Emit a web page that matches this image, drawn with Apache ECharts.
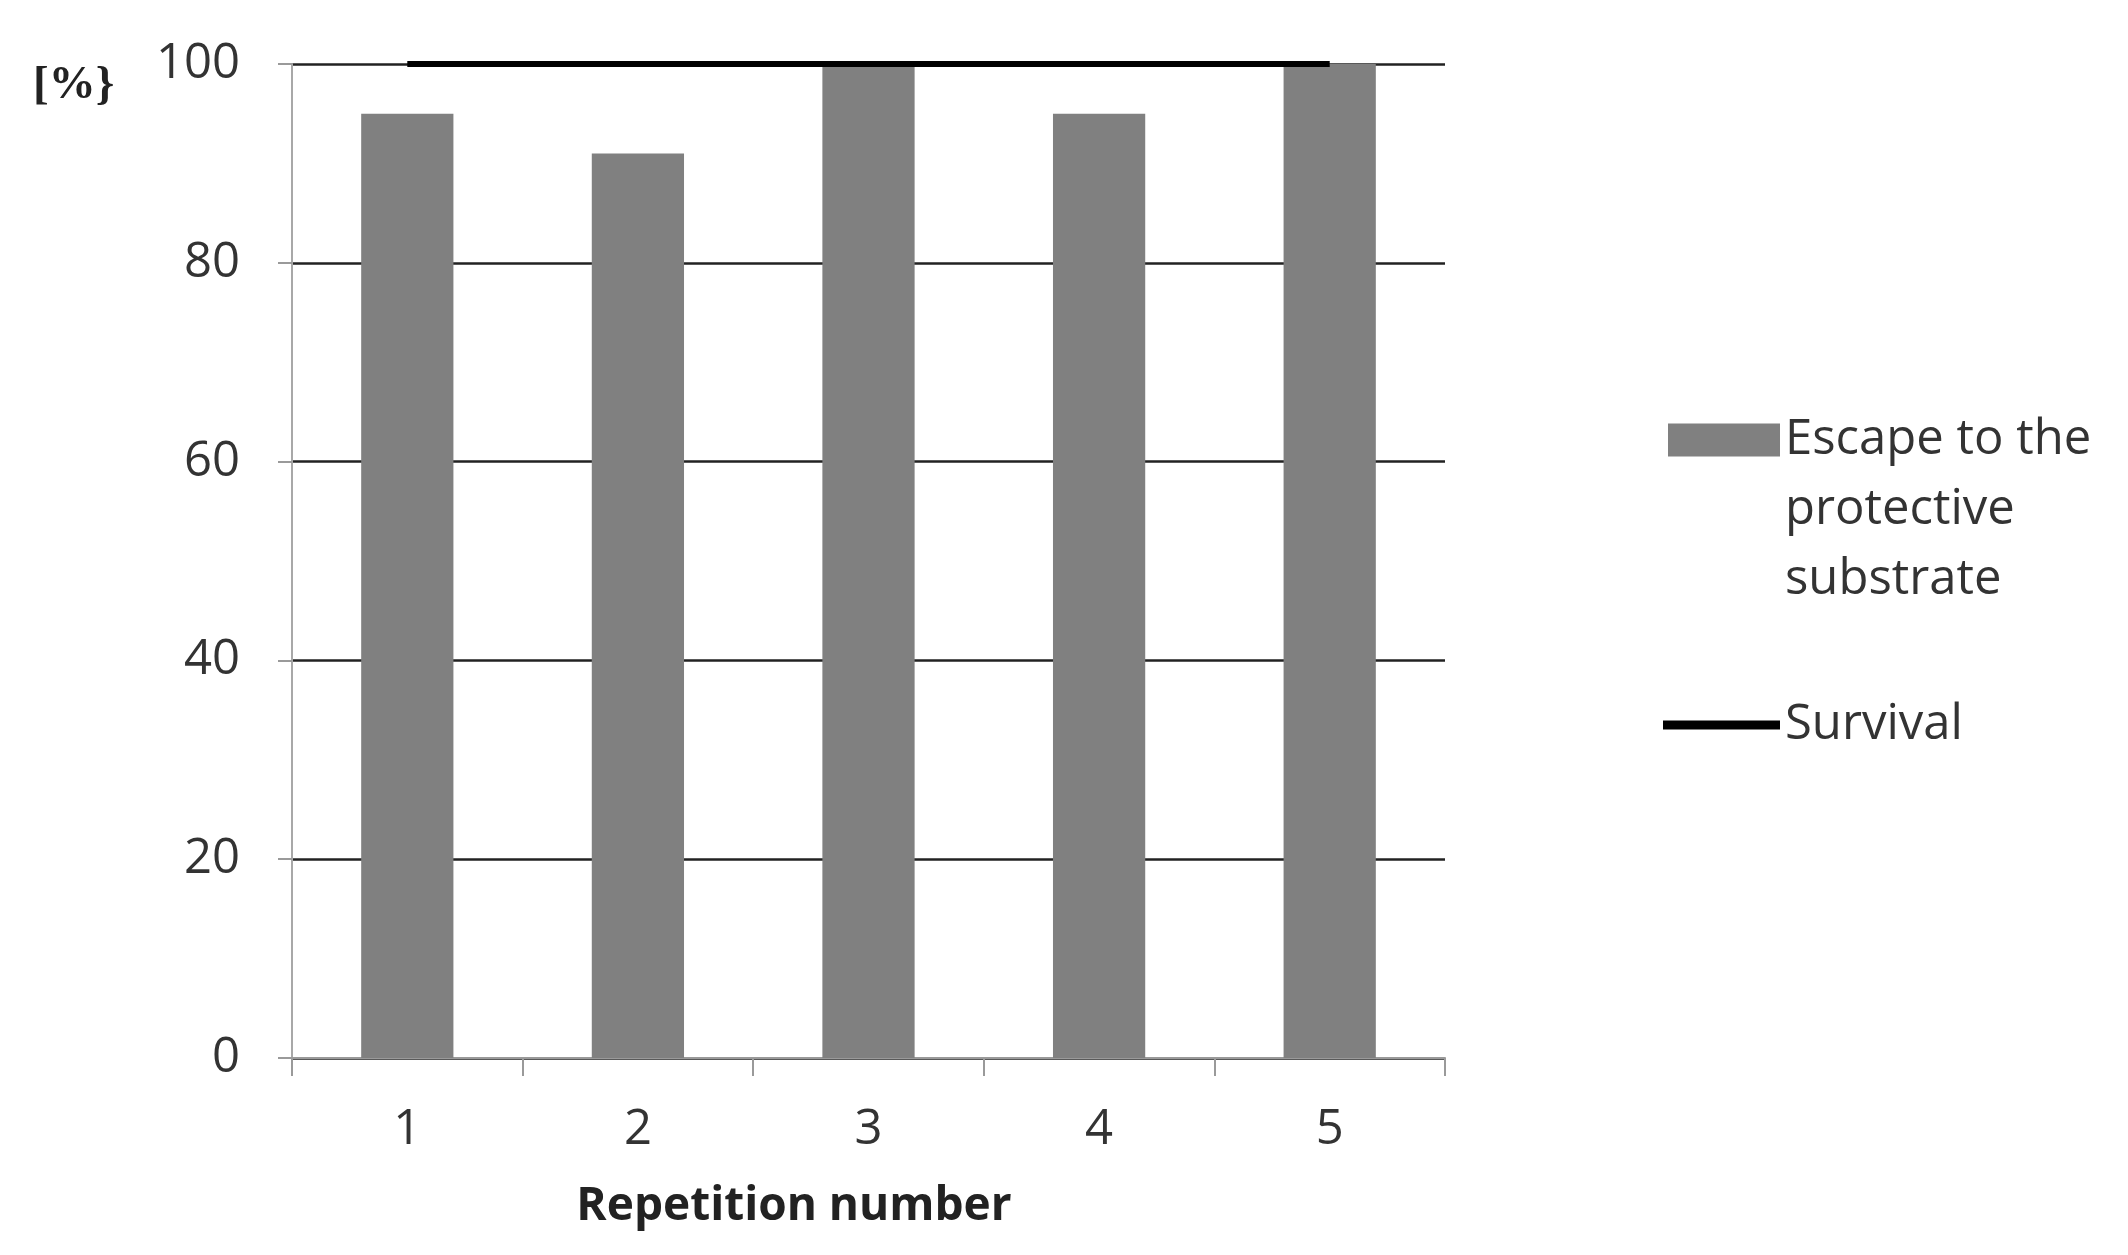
<!DOCTYPE html>
<html>
<head>
<meta charset="utf-8">
<script src="https://cdn.jsdelivr.net/npm/echarts@6/dist/echarts.min.js"></script>
<style>
html,body{margin:0;padding:0;background:#fff;}
#chart{width:2128px;height:1255px;}
</style>
</head>
<body>
<div id="chart"></div>
<script>
const categories = ['1', '2', '3', '4', '5'];
const escapeValues = [95, 91, 100, 95, 100];
const survivalValues = [100, 100, 100, 100, 100];
const yTicks = [0, 20, 40, 60, 80, 100];
const escapeName = 'Escape to the protective substrate';
const escapeLegendLines = ['Escape to the', 'protective', 'substrate'];
const survivalName = 'Survival';
const yUnit = '[%}';
const xTitle = 'Repetition number';

const chart = echarts.init(document.getElementById('chart'), null, {renderer: 'canvas'});
const font = 'Open Sans';
chart.setOption({
  backgroundColor: '#ffffff',
  animation: false,
  grid: {left: 292, right: 683, top: 64, bottom: 197, containLabel: false},
  xAxis: {
    type: 'category',
    data: categories,
    axisLine: {show: true, lineStyle: {color: '#9a9a9a', width: 2}},
    axisTick: {show: true, length: 18, lineStyle: {color: '#9a9a9a', width: 2}},
    axisLabel: {fontFamily: font, fontSize: 49, color: '#333', margin: 47, lineHeight: 50},
    splitLine: {show: false}
  },
  yAxis: {
    type: 'value',
    min: yTicks[0],
    max: yTicks[yTicks.length - 1],
    interval: yTicks[1] - yTicks[0],
    axisLine: {show: true, lineStyle: {color: '#a8a8a8', width: 2}},
    axisTick: {show: true, length: 14, lineStyle: {color: '#9a9a9a', width: 2}},
    axisLabel: {fontFamily: font, fontSize: 49, color: '#333', margin: 52},
    splitLine: {show: true, lineStyle: {color: '#222', width: 2.5}}
  },
  legend: [
    {
      orient: 'vertical',
      left: 1668,
      top: 265,
      padding: 0,
      itemWidth: 112,
      itemHeight: 33,
      icon: 'rect',
      data: [escapeName],
      formatter: function () { return '\n\n' + escapeLegendLines.join('\n'); },
      textStyle: {fontFamily: font, fontSize: 49, lineHeight: 70, color: '#333'}
    },
    {
      orient: 'vertical',
      left: 1663,
      top: 690,
      padding: 0,
      itemWidth: 117,
      itemHeight: 9,
      icon: 'rect',
      data: [survivalName],
      textStyle: {fontFamily: font, fontSize: 49, lineHeight: 70, color: '#333'}
    }
  ],
  graphic: [
    {type: 'text', left: 33, top: 62, style: {text: yUnit, fontFamily: 'Liberation Serif', fontWeight: 'bold', fontSize: 47, fill: '#222'}},
    {type: 'text', x: 794, y: 1207, style: {text: xTitle, fontFamily: font, fontWeight: 'bold', fontSize: 46, fill: '#222', align: 'center', verticalAlign: 'middle'}}
  ],
  series: [
    {
      name: escapeName,
      type: 'bar',
      data: escapeValues,
      barWidth: '40%',
      itemStyle: {color: '#808080'},
      z: 2
    },
    {
      name: survivalName,
      type: 'line',
      data: survivalValues,
      symbol: 'none',
      lineStyle: {color: '#000', width: 6},
      itemStyle: {color: '#000'},
      z: 5
    }
  ]
});
</script>
</body>
</html>
